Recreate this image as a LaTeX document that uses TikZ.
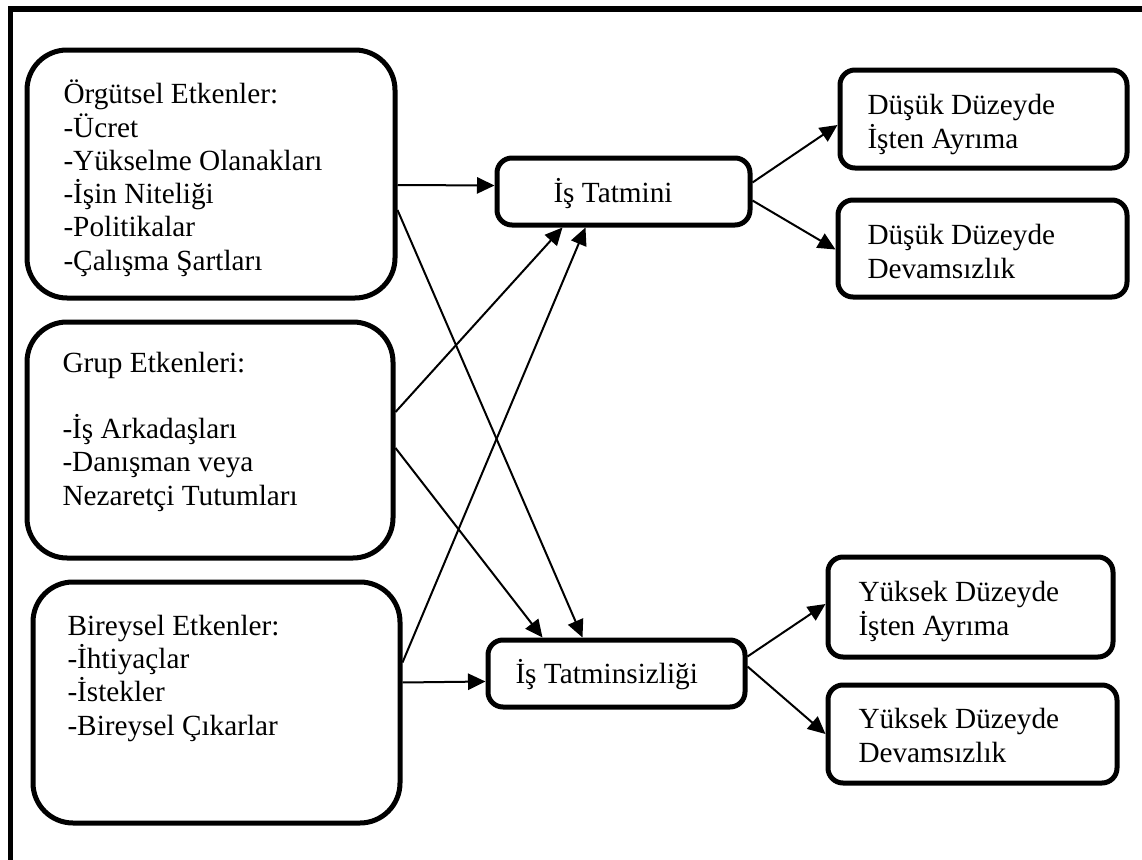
\documentclass[tikz,border=0pt]{standalone}
\usepackage{fontspec}
\setmainfont{Liberation Serif}
\usetikzlibrary{arrows.meta,fit,calc}

\tikzset{
  frame/.style={draw, line width=2pt},
  bigbox/.style={draw, line width=2pt, rounded corners=16pt, inner sep=0pt},
  smallbox/.style={draw, line width=2pt, rounded corners=6pt, inner sep=0pt},
  txt/.style={align=left, inner sep=0pt, anchor=base west, font=\fontsize{11.7}{13.3}\selectfont},
  arr/.style={-{Triangle[length=7pt,width=6.5pt]}, line width=0.8pt}
}

\begin{document}
\begin{tikzpicture}[x=0.4pt,y=-0.4pt]
\useasboundingbox (0,0) rectangle (1142,860);
\draw[frame] (10,9) rectangle (1160,880);

% factors (text placed by its last baseline)
\node[bigbox, fit={(27,50) (395,298)}] (org) {};
\node[bigbox, fit={(27,322) (393,558)}] (grp) {};
\node[bigbox, fit={(33,582) (400,823)}] (bir) {};
\node[txt] (orgtxt) at (63,270) {Örgütsel Etkenler:\\-Ücret\\-Yükselme Olanakları\\-İşin Niteliği\\-Politikalar\\-Çalışma Şartları};
\node[txt] (grptxt) at (62,505) {Grup Etkenleri:\\[13.3pt]-İş Arkadaşları\\-Danışman veya\\Nezaretçi Tutumları};
\node[txt] (birtxt) at (67,735) {Bireysel Etkenler:\\-İhtiyaçlar\\-İstekler\\-Bireysel Çıkarlar};

% satisfaction
\node[smallbox, fit={(497,158) (750,225)}] (t1) {};
\node[smallbox, fit={(488,640) (745,707)}] (t2) {};
\node[txt] (t1txt) at (553,202) {İş Tatmini};
\node[txt] (t2txt) at (515,683) {İş Tatminsizliği};

% results
\node[smallbox, fit={(840,70) (1127,168)}] (d1) {};
\node[smallbox, fit={(838,200) (1127,297)}] (d2) {};
\node[smallbox, fit={(828,557) (1113,657)}] (y1) {};
\node[smallbox, fit={(828,685) (1117,783)}] (y2) {};
\node[txt] (d1txt) at (867,148) {Düşük Düzeyde\\İşten Ayrıma};
\node[txt] (d2txt) at (867,278) {Düşük Düzeyde\\Devamsızlık};
\node[txt] (y1txt) at (858,635) {Yüksek Düzeyde\\İşten Ayrıma};
\node[txt] (y2txt) at (858,762) {Yüksek Düzeyde\\Devamsızlık};

% connectors
\draw[arr] ($(org.east)+(0,11)$) -- ($(t1.west)+(0,-6)$);
\draw[arr] ($(org.east)+(0,36)$) -- ($(t2.north)+(-34,0)$);
\draw[arr] ($(grp.east)+(0,-28)$) -- ($(t1.south)+(-61,0)$);
\draw[arr] ($(grp.east)+(0,8)$) -- ($(t2.north)+(-74,0)$);
\draw[arr] ($(bir.east)+(0,-40)$) -- ($(t1.south)+(-38,0)$);
\draw[arr] ($(bir.east)+(0,-20)$) -- ($(t2.west)+(0,8)$);
\draw[arr] ($(t1.east)+(0,-9)$) -- ($(d1.west)+(0,6)$);
\draw[arr] ($(t1.east)+(0,9)$) -- ($(d2.west)+(0,1)$);
\draw[arr] ($(t2.east)+(0,-17)$) -- ($(y1.west)+(0,-3)$);
\draw[arr] ($(t2.east)+(0,-7)$) -- (y2.west);
\end{tikzpicture}
\end{document}
